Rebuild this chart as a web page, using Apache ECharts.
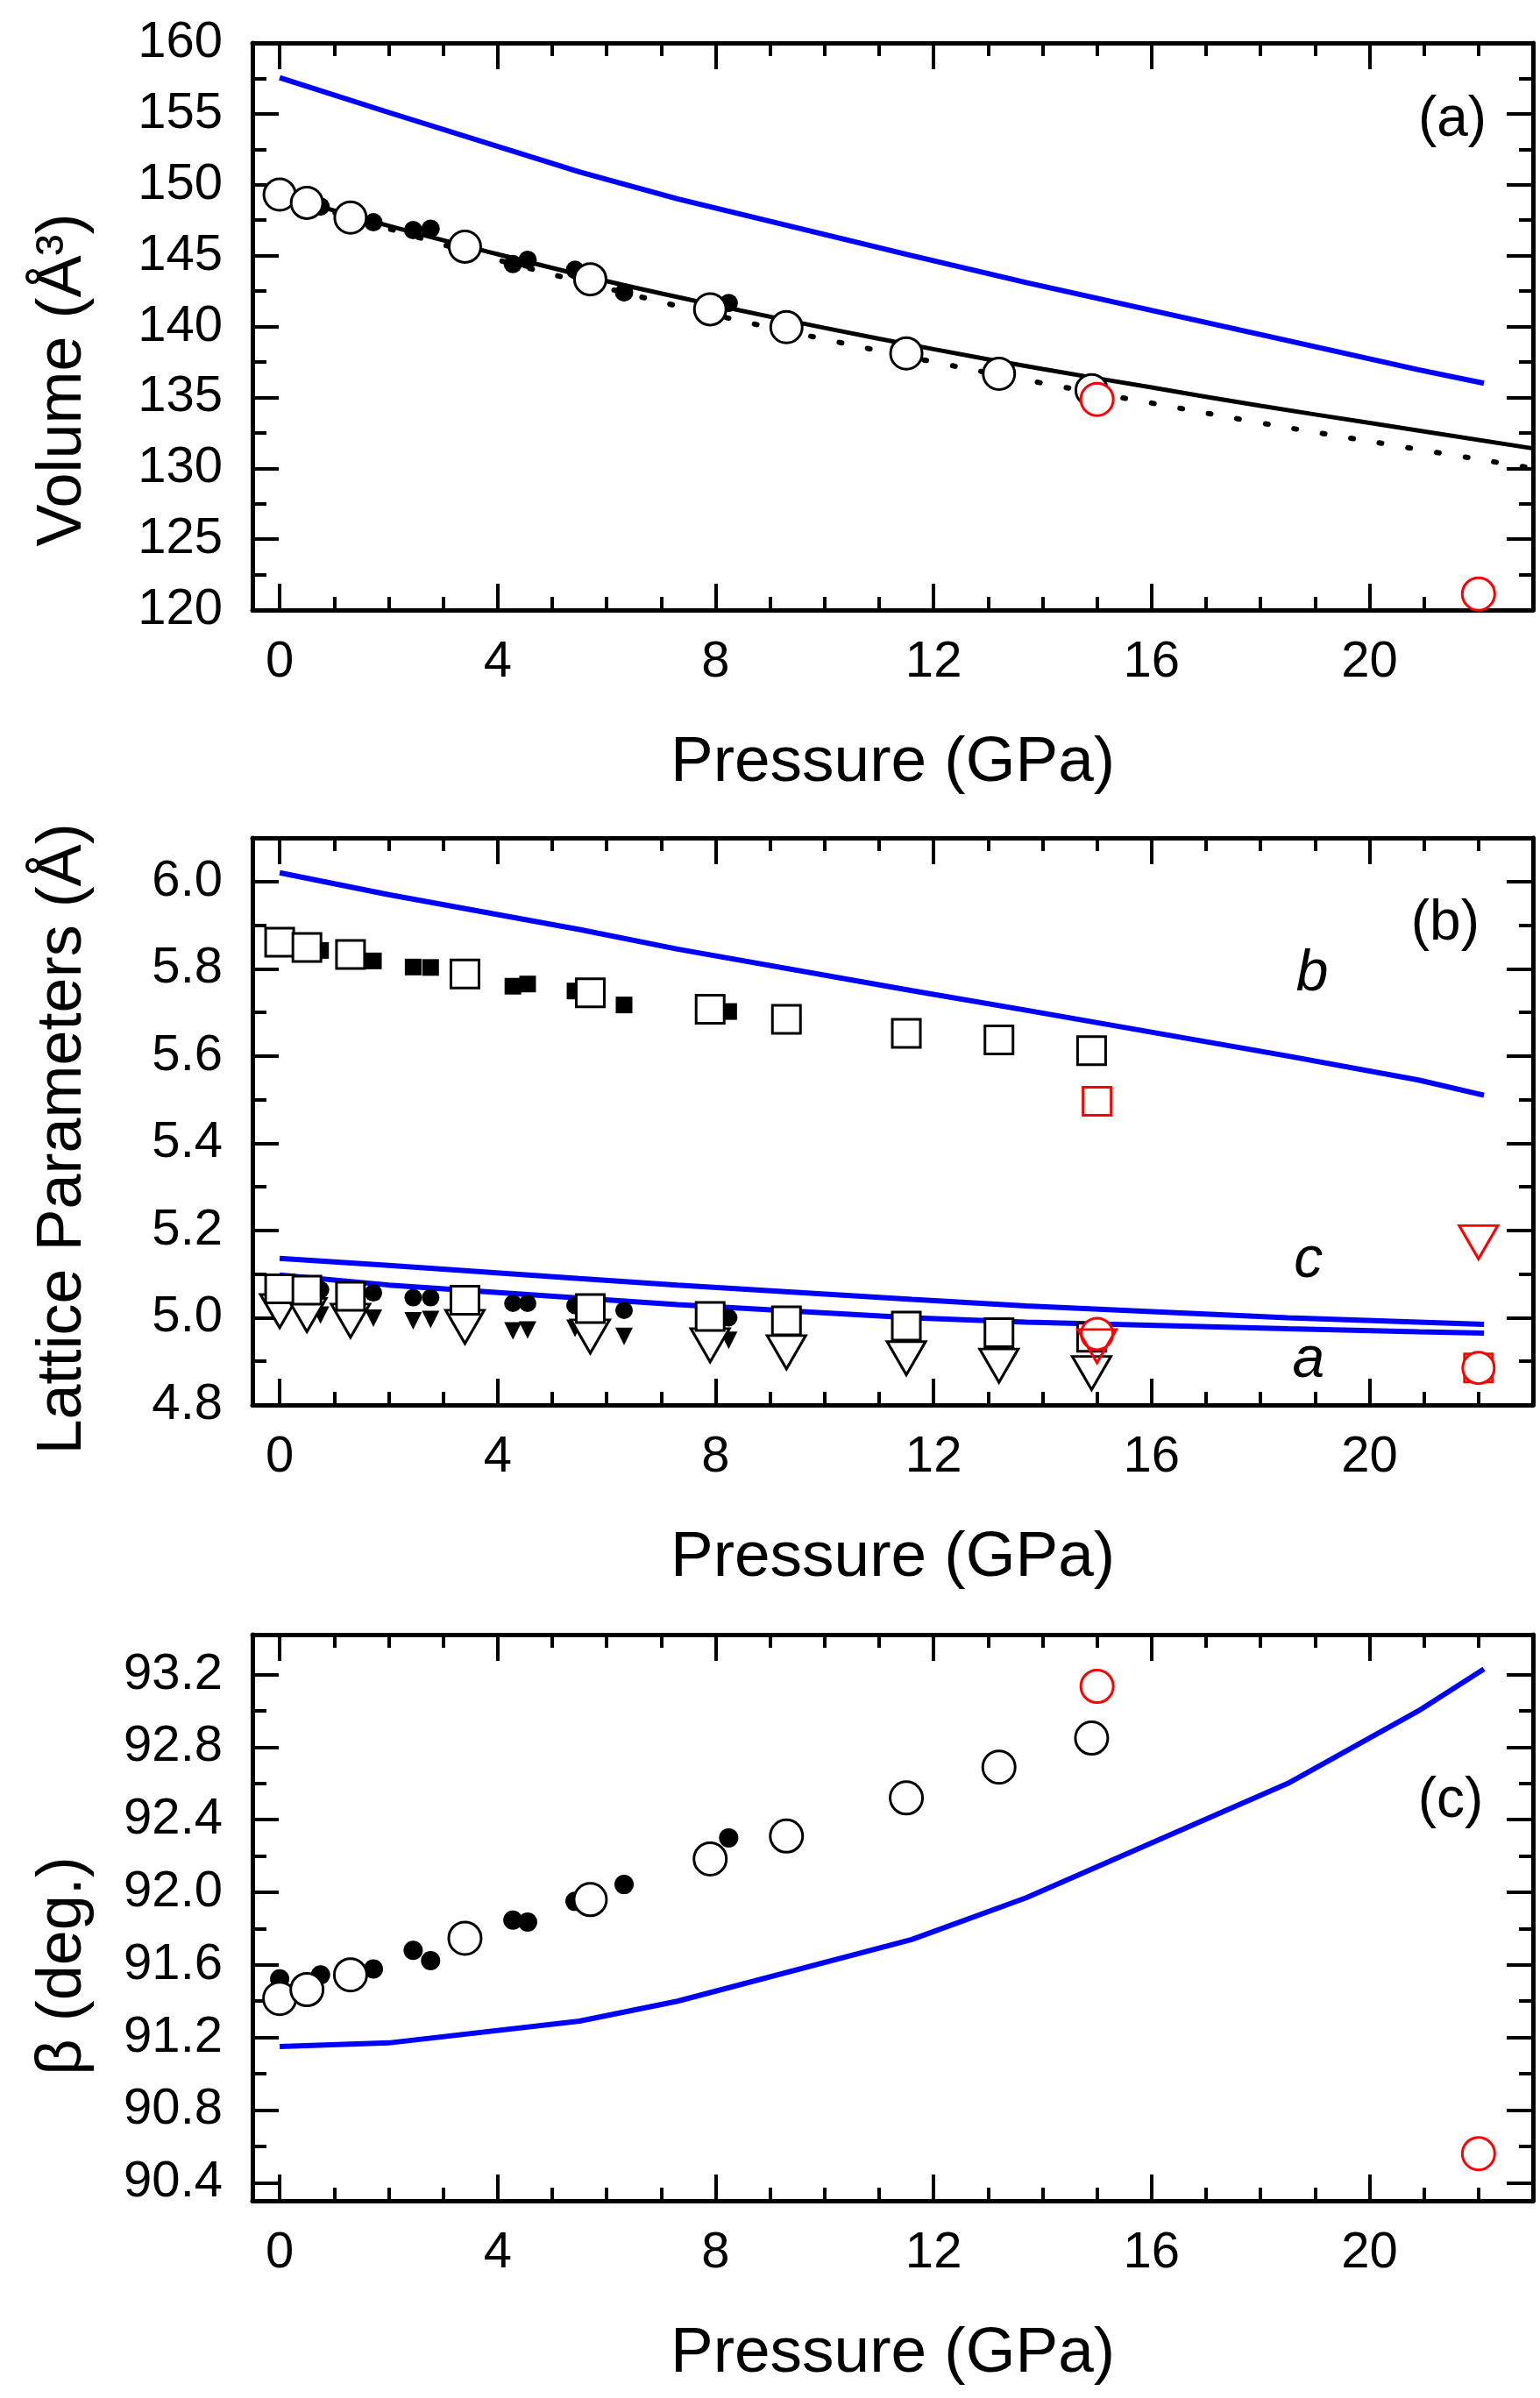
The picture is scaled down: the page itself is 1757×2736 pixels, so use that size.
<!DOCTYPE html>
<html>
<head>
<meta charset="utf-8">
<title>Volume, lattice parameters and beta vs pressure</title>
<script src="https://cdn.jsdelivr.net/npm/echarts@6/dist/echarts.min.js"></script>
<style>
  html, body { margin: 0; padding: 0; background: #fff; }
  #chart { width: 1757px; height: 2736px; }
</style>
</head>
<body>
<div id="chart"></div>
<script>
// pressures (GPa)
var pOpen = [0, 0.5, 1.3, 3.4, 5.7, 7.9, 9.3, 11.5, 13.2, 14.9];
var pFilled = [0, 0.75, 1.72, 2.45, 2.77, 4.28, 4.55, 5.42, 6.32, 8.24];
var pRed = [15, 22];
var pCalc = [0, 2, 5.5, 7.3, 11.6, 13.7, 18.5, 20.9, 22.1];
var pFit = [0, 2, 4, 6, 8, 10, 12, 14, 16, 18, 20, 23];

// (a) volume
var volOpen = [149.3, 148.72, 147.68, 145.63, 143.33, 141.21, 139.95, 138.1, 136.66, 135.5];
var volFilled = [149.2, 148.46, 147.35, 146.8, 146.9, 144.4, 144.7, 144.0, 142.4, 141.66];
var volRed = [134.86, 121.13];
var volCalc = [157.55, 155.1, 150.9, 149.0, 145.0, 143.1, 139.0, 136.95, 136.0];
var volFitSolid = [149.3, 147.1, 145.1, 143.2, 141.5, 139.9, 138.4, 137.0, 135.7, 134.4, 133.2, 131.4];
var volFitDotted = [149.2, 146.9, 144.7, 142.7, 140.8, 139.1, 137.5, 136.0, 134.6, 133.2, 131.9, 130.0];

// (b) lattice parameters
var bOpen = [5.861, 5.849, 5.833, 5.788, 5.745, 5.707, 5.684, 5.652, 5.637, 5.612];
var bFilled = [5.855, 5.842, 5.818, 5.804, 5.803, 5.76, 5.765, 5.749, 5.717, 5.702];
var cOpen = [5.066, 5.063, 5.049, 5.040, 5.021, 5.003, 4.993, 4.981, 4.966, 4.955];
var cFilled = [5.07, 5.064, 5.057, 5.046, 5.046, 5.033, 5.033, 5.028, 5.017, 5.0];
var aOpen = [5.015, 5.006, 4.993, 4.979, 4.957, 4.937, 4.921, 4.907, 4.890, 4.873];
var aFilled = [5.01, 5.006, 4.999, 4.993, 4.996, 4.97, 4.972, 4.976, 4.957, 4.948];
var bRed = [5.496, 4.885];
var aRed = [4.935, 5.173];
var cRed = [4.963, 4.885];
var bCalc = [6.02, 5.97, 5.89, 5.845, 5.75, 5.705, 5.60, 5.545, 5.51];
var cCalc = [5.136, 5.12, 5.09, 5.075, 5.042, 5.027, 5.0, 4.99, 4.985];
var aCalc = [5.098, 5.075, 5.045, 5.03, 5.0, 4.99, 4.975, 4.968, 4.965];

// (c) beta angle
var betaOpen = [91.415, 91.464, 91.545, 91.747, 91.96, 92.184, 92.31, 92.52, 92.69, 92.85];
var betaFilled = [91.523, 91.545, 91.577, 91.68, 91.623, 91.847, 91.836, 91.95, 92.043, 92.3];
var betaRed = [93.135, 90.56];
var betaCalc = [91.15, 91.17, 91.29, 91.40, 91.74, 91.97, 92.6, 93.0, 93.23];

// ticks
var xMajor = [0, 4, 8, 12, 16, 20];
var xMinor = [1, 2, 3, 5, 6, 7, 9, 10, 11, 13, 14, 15, 17, 18, 19, 21, 22];
var volMajor = [120, 125, 130, 135, 140, 145, 150, 155, 160];
var volMinor = [122.5, 127.5, 132.5, 137.5, 142.5, 147.5, 152.5, 157.5];
var latMajor = [4.8, 5.0, 5.2, 5.4, 5.6, 5.8, 6.0];
var latMinor = [4.9, 5.1, 5.3, 5.5, 5.7, 5.9];
var betaMajor = [90.4, 90.8, 91.2, 91.6, 92.0, 92.4, 92.8, 93.2];
var betaMinor = [90.6, 91.0, 91.4, 91.8, 92.2, 92.6, 93.0];

var FONT = 'Liberation Sans';
var BLUE = '#0000ff';
var RED = '#ff0000';

function zip(xs, ys) {
    return xs.map(function (x, i) { return [x, ys[i]]; });
}

var frame = { onZero: false, lineStyle: { color: '#000', width: 5 } };
var noLine = { show: false, onZero: false };
function tick(vals, len) {
    return { show: true, inside: true, length: len, customValues: vals, lineStyle: { color: '#000', width: 4 } };
}

function xAxesFor(g) {
    var base = { gridIndex: g, type: 'value', min: -0.5, max: 23, splitLine: { show: false } };
    return [
        Object.assign({}, base, {
            position: 'bottom', axisLine: frame, axisTick: tick(xMajor, 30),
            axisLabel: { customValues: xMajor, margin: 31, color: '#000', fontSize: 58, fontFamily: FONT },
            name: 'Pressure (GPa)', nameLocation: 'middle', nameGap: 138,
            nameTextStyle: { color: '#000', fontSize: 73, fontFamily: FONT }
        }),
        Object.assign({}, base, { position: 'bottom', axisLine: noLine, axisTick: tick(xMinor, 15), axisLabel: { show: false } }),
        Object.assign({}, base, { position: 'top', axisLine: frame, axisTick: tick(xMajor, 30), axisLabel: { show: false } }),
        Object.assign({}, base, { position: 'top', axisLine: noLine, axisTick: tick(xMinor, 15), axisLabel: { show: false } })
    ];
}

function yAxesFor(g, min, max, major, minor, digits, name, shift) {
    var base = { gridIndex: g, type: 'value', min: min, max: max, splitLine: { show: false } };
    return [
        Object.assign({}, base, {
            position: 'left', axisLine: frame, axisTick: tick(major, 30),
            axisLabel: {
                customValues: major, margin: 34, color: '#000', fontSize: 58, fontFamily: FONT,
                formatter: function (v) { return v.toFixed(digits); }
            },
            name: name, nameLocation: 'middle', nameRotate: 90, nameGap: 180,
            nameTextStyle: { color: '#000', fontSize: 72, fontFamily: FONT, padding: [0, shift, 0, 0] }
        }),
        Object.assign({}, base, { position: 'left', axisLine: noLine, axisTick: tick(minor, 16), axisLabel: { show: false } }),
        Object.assign({}, base, { position: 'right', axisLine: frame, axisTick: tick(major, 30), axisLabel: { show: false } }),
        Object.assign({}, base, { position: 'right', axisLine: noLine, axisTick: tick(minor, 16), axisLabel: { show: false } })
    ];
}

function line(g, xs, ys, color, type, z) {
    return {
        type: 'line', xAxisIndex: 4 * g, yAxisIndex: 4 * g, data: zip(xs, ys),
        showSymbol: false, smooth: type === 'calc' ? false : 0.4, z: z,
        lineStyle: type === 'dotted'
            ? { color: color, width: 6, type: [3, 30], cap: 'round' }
            : { color: color, width: type === 'calc' ? 6 : 5 },
        silent: true
    };
}

function marks(g, xs, ys, symbol, size, fill, edge, z, rotate) {
    return {
        type: 'scatter', xAxisIndex: 4 * g, yAxisIndex: 4 * g, data: zip(xs, ys),
        symbol: symbol, symbolSize: size, symbolRotate: rotate || 0, z: z,
        itemStyle: { color: fill, borderColor: edge || fill, borderWidth: edge ? 3 : 0, opacity: 1 },
        silent: true
    };
}

function note(g, x, y, text, size, italic) {
    return {
        type: 'scatter', xAxisIndex: 4 * g, yAxisIndex: 4 * g, data: [[x, y]],
        symbolSize: 1, itemStyle: { color: 'rgba(0,0,0,0)', opacity: 1 }, z: 20, silent: true,
        label: {
            show: true, position: 'inside', formatter: text, color: '#000', opacity: 1,
            textBorderWidth: 0, fontSize: size, fontFamily: FONT, fontStyle: italic ? 'italic' : 'normal'
        }
    };
}

var option = {
    backgroundColor: '#fff',
    animation: false,
    grid: [
        { left: 288, top: 49, width: 1461, height: 647 },
        { left: 288, top: 956, width: 1461, height: 647 },
        { left: 288, top: 1865, width: 1461, height: 646 }
    ],
    xAxis: [].concat(xAxesFor(0), xAxesFor(1), xAxesFor(2)),
    yAxis: [].concat(
        yAxesFor(0, 120, 160, volMajor, volMinor, 0, 'Volume (Å³)', 122),
        yAxesFor(1, 4.8, 6.1, latMajor, latMinor, 1, 'Lattice Parameters (Å)', 40),
        yAxesFor(2, 90.3, 93.42, betaMajor, betaMinor, 1, 'β (deg.)', 110)
    ),
    series: [
        // (a)
        line(0, pCalc, volCalc, BLUE, 'calc', 2),
        line(0, pFit, volFitSolid, '#000', 'solid', 2),
        line(0, pFit, volFitDotted, '#000', 'dotted', 2),
        marks(0, pFilled, volFilled, 'circle', 21, '#000', null, 3),
        marks(0, pOpen, volOpen, 'circle', 36, '#fff', '#000', 4),
        marks(0, pRed, volRed, 'circle', 37, '#fff', RED, 5),
        note(0, 21.52, 154.56, '(a)', 64, false),

        // (b)
        line(1, pCalc, bCalc, BLUE, 'calc', 2),
        line(1, pCalc, cCalc, BLUE, 'calc', 2),
        line(1, pCalc, aCalc, BLUE, 'calc', 2),
        marks(1, pFilled, bFilled, 'rect', 19, '#000', null, 3),
        marks(1, pFilled, aFilled, 'triangle', [20, 20], '#000', null, 3, 180),
        marks(1, pFilled, cFilled, 'circle', 20, '#000', null, 3),
        marks(1, pOpen, aOpen, 'triangle', [44, 38], '#fff', '#000', 4, 180),
        marks(1, pOpen, cOpen, 'rect', 32, '#fff', '#000', 4),
        marks(1, pOpen, bOpen, 'rect', 32, '#fff', '#000', 4),
        marks(1, pRed, bRed, 'rect', 32, '#fff', RED, 5),
        marks(1, pRed, cRed, 'circle', 36, '#fff', RED, 6),
        marks(1, pRed, aRed, 'triangle', [44, 38], 'rgba(255,255,255,0)', RED, 7, 180),
        note(1, 21.39, 5.903, '(b)', 64, false),
        note(1, 18.95, 5.787, 'b', 66, true),
        note(1, 18.88, 5.13, 'c', 66, true),
        note(1, 18.88, 4.902, 'a', 66, true),

        // (c)
        line(2, pCalc, betaCalc, BLUE, 'calc', 2),
        marks(2, pFilled, betaFilled, 'circle', 22, '#000', null, 3),
        marks(2, pOpen, betaOpen, 'circle', 37, '#fff', '#000', 4),
        marks(2, pRed, betaRed, 'circle', 37, '#fff', RED, 5),
        note(2, 21.49, 92.5, '(c)', 64, false)
    ]
};

var chart = echarts.init(document.getElementById('chart'), null, { renderer: 'canvas' });
chart.setOption(option);
</script>
</body>
</html>
